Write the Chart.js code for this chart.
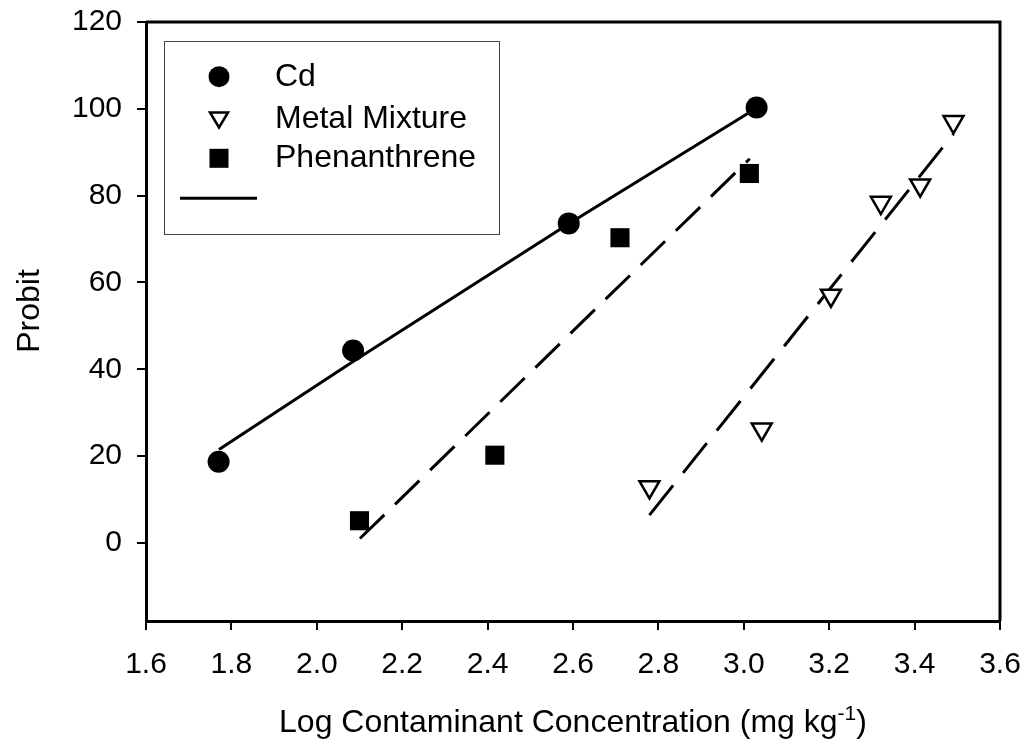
<!DOCTYPE html>
<html>
<head>
<meta charset="utf-8">
<script src="https://cdn.jsdelivr.net/npm/chart.js@4.4.1/dist/chart.umd.min.js"></script>
<style>
  html, body { margin: 0; padding: 0; background: #fff; }
  canvas { display: block; }
</style>
</head>
<body>
<canvas id="probitChart" width="1029" height="748"></canvas>
<script>
const FONT = 'Arial, "Liberation Sans", sans-serif';

// tick labels
const xTicks = [1.6, 1.8, 2.0, 2.2, 2.4, 2.6, 2.8, 3.0, 3.2, 3.4, 3.6];
const yTicks = [0, 20, 40, 60, 80, 100, 120];

// observed points
const cdX = [1.77, 2.085, 2.59, 3.03];
const cdY = [18.7, 44.3, 73.6, 100.3];
const metalX = [2.779, 3.042, 3.204, 3.321, 3.413, 3.491];
const metalY = [12.9, 26.2, 57.0, 78.4, 82.4, 97.0];
const phenX = [2.10, 2.417, 2.71, 3.013];
const phenY = [5.1, 20.2, 70.3, 85.1];

// fitted lines
const cdFitX = [1.771, 2.085, 2.591, 3.032];
const cdFitY = [21.5, 41.8, 73.6, 100.3];
const phenFitX = [2.101, 3.014];
const phenFitY = [1.0, 88.5];
const metalFitX = [2.779, 3.491];
const metalFitY = [6.4, 94.2];

const legendNames = ['Cd', 'Metal Mixture', 'Phenanthrene'];

function pts(xs, ys) {
    return xs.map((x, i) => ({ x: x, y: ys[i] }));
}

// full box round the plot area
const boxPlugin = {
    id: 'box',
    afterDatasetsDraw(chart) {
        const a = chart.chartArea;
        const ctx = chart.ctx;
        ctx.save();
        ctx.strokeStyle = '#000';
        ctx.lineWidth = 3;
        ctx.beginPath();
        ctx.moveTo(a.left, a.top);
        ctx.lineTo(a.right, a.top);
        ctx.lineTo(a.right, a.bottom);
        ctx.stroke();
        ctx.restore();
    }
};

// legend box and axis titles
const textPlugin = {
    id: 'texts',
    afterDraw(chart) {
        const ctx = chart.ctx;
        ctx.save();

        // legend frame
        ctx.strokeStyle = '#444';
        ctx.lineWidth = 1;
        ctx.strokeRect(164.5, 41.5, 335, 193);

        const mx = 219;
        const rows = [76.7, 119, 158.3];
        ctx.fillStyle = '#000';
        ctx.strokeStyle = '#000';

        // circle
        ctx.beginPath();
        ctx.arc(mx, rows[0], 10.5, 0, Math.PI * 2);
        ctx.fill();

        // down triangle
        ctx.lineWidth = 2.5;
        ctx.beginPath();
        ctx.moveTo(mx - 9, rows[1] - 6.5);
        ctx.lineTo(mx + 9, rows[1] - 6.5);
        ctx.lineTo(mx, rows[1] + 8.5);
        ctx.closePath();
        ctx.fillStyle = '#fff';
        ctx.fill();
        ctx.stroke();

        // square
        ctx.fillStyle = '#000';
        ctx.fillRect(mx - 9.5, rows[2] - 9.5, 19, 19);

        // line sample
        ctx.lineWidth = 3;
        ctx.beginPath();
        ctx.moveTo(180, 198.3);
        ctx.lineTo(257, 198.3);
        ctx.stroke();

        ctx.font = '32px ' + FONT;
        ctx.textBaseline = 'middle';
        ctx.textAlign = 'left';
        legendNames.forEach((name, i) => ctx.fillText(name, 275, rows[i]));

        // y title
        ctx.save();
        ctx.translate(30, 311);
        ctx.rotate(-Math.PI / 2);
        ctx.textAlign = 'center';
        ctx.textBaseline = 'middle';
        ctx.fillText('Probit', 0, 0);
        ctx.restore();

        // x title with superscript
        const main = 'Log Contaminant Concentration (mg kg';
        const sup = '-1';
        const end = ')';
        ctx.textBaseline = 'alphabetic';
        ctx.font = '32px ' + FONT;
        const w1 = ctx.measureText(main).width;
        const w3 = ctx.measureText(end).width;
        ctx.font = '21px ' + FONT;
        const w2 = ctx.measureText(sup).width;
        const cx = (chart.chartArea.left + chart.chartArea.right) / 2;
        let x = cx - (w1 + w2 + w3) / 2;
        const base = 732;
        ctx.font = '32px ' + FONT;
        ctx.fillText(main, x, base);
        x += w1;
        ctx.font = '21px ' + FONT;
        ctx.fillText(sup, x, base - 12);
        x += w2;
        ctx.font = '32px ' + FONT;
        ctx.fillText(end, x, base);

        ctx.restore();
    }
};

const ctx = document.getElementById('probitChart').getContext('2d');

new Chart(ctx, {
    type: 'scatter',
    data: {
        datasets: [
            {
                label: 'Cd',
                data: pts(cdX, cdY),
                pointStyle: 'circle',
                pointRadius: 11,
                backgroundColor: '#000',
                borderColor: '#000',
                borderWidth: 0
            },
            {
                label: 'Metal Mixture',
                data: pts(metalX, metalY),
                pointStyle: 'triangle',
                rotation: 180,
                pointRadius: 11.5,
                backgroundColor: '#fff',
                borderColor: '#000',
                borderWidth: 2.5
            },
            {
                label: 'Phenanthrene',
                data: pts(phenX, phenY),
                pointStyle: 'rect',
                pointRadius: 13.5,
                backgroundColor: '#000',
                borderColor: '#000',
                borderWidth: 0
            },
            {
                label: 'Cd fit',
                data: pts(cdFitX, cdFitY),
                showLine: true,
                pointRadius: 0,
                borderColor: '#000',
                borderWidth: 3
            },
            {
                label: 'Phenanthrene fit',
                data: pts(phenFitX, phenFitY),
                showLine: true,
                pointRadius: 0,
                borderColor: '#000',
                borderWidth: 3,
                borderDash: [34, 15]
            },
            {
                label: 'Metal fit',
                data: pts(metalFitX, metalFitY),
                showLine: true,
                pointRadius: 0,
                borderColor: '#000',
                borderWidth: 3,
                borderDash: [38, 16]
            }
        ]
    },
    options: {
        responsive: false,
        animation: false,
        events: [],
        layout: {
            padding: { top: 22, right: 29, left: 0, bottom: 0 }
        },
        plugins: {
            legend: { display: false },
            tooltip: { enabled: false }
        },
        scales: {
            x: {
                type: 'linear',
                position: 'bottom',
                min: 1.6,
                max: 3.6,
                afterBuildTicks: scale => { scale.ticks = xTicks.map(v => ({ value: v })); },
                afterFit: scale => {
                    scale.height = 127;
                    scale.paddingLeft = 0;
                    scale.paddingRight = 0;
                },
                ticks: {
                    color: '#000',
                    font: { family: FONT, size: 30 },
                    padding: 17,
                    maxRotation: 0,
                    callback: v => v.toFixed(1)
                },
                grid: {
                    drawOnChartArea: false,
                    drawTicks: true,
                    tickLength: 9,
                    color: '#000',
                    lineWidth: 2
                },
                border: { color: '#000', width: 3 }
            },
            y: {
                type: 'linear',
                min: -18,
                max: 120,
                afterBuildTicks: scale => { scale.ticks = yTicks.map(v => ({ value: v })); },
                afterFit: scale => {
                    scale.width = 146;
                    scale.paddingTop = 0;
                    scale.paddingBottom = 0;
                },
                ticks: {
                    color: '#000',
                    font: { family: FONT, size: 30 },
                    padding: 15,
                    callback: v => String(v)
                },
                grid: {
                    drawOnChartArea: false,
                    drawTicks: true,
                    tickLength: 9,
                    color: '#000',
                    lineWidth: 2
                },
                border: { color: '#000', width: 3 }
            }
        }
    },
    plugins: [boxPlugin, textPlugin]
});
</script>
</body>
</html>
